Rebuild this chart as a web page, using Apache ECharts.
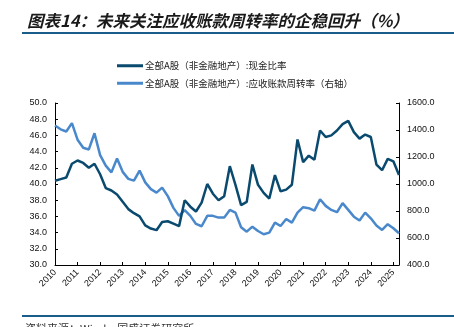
<!DOCTYPE html>
<html>
<head>
<meta charset="utf-8">
<script src="https://cdn.jsdelivr.net/npm/echarts@6/dist/echarts.min.js"></script>
<style>
  html, body { margin: 0; padding: 0; background: #fff; }
  #chart { width: 454px; height: 327px; }
</style>
</head>
<body>
<div id="chart"></div>
<script>
// Quarterly observations, 2010Q1 – 2025Q2
const years = ['2010','2011','2012','2013','2014','2015','2016','2017','2018','2019','2020','2021','2022','2023','2024','2025'];
const quarters = ['Q1','Q2','Q3','Q4'];

// 全部A股（非金融地产）:现金比率 (left axis)
const cashRatio = [
  40.4, 40.6, 40.8, 42.5, 42.9, 42.6, 42.0, 42.5,
  41.2, 39.5, 39.2, 38.7, 37.8, 36.9, 36.4, 36.0,
  34.9, 34.5, 34.3, 35.3, 35.4, 35.1, 34.8, 38.0,
  37.2, 36.6, 37.7, 40.0, 38.8, 38.0, 38.5, 42.2,
  39.9, 37.4, 37.8, 42.4, 39.9, 38.9, 38.2, 41.1,
  39.1, 39.3, 39.9, 45.5, 42.7, 43.5, 43.0, 46.6,
  45.8, 46.0, 46.6, 47.4, 47.8, 46.4, 45.6, 46.1,
  45.8, 42.4, 41.7, 43.1, 42.8, 41.1
];

// 全部A股（非金融地产）:应收账款周转率 (right axis)
const receivableTurnover = [
  1434, 1405, 1389, 1451, 1328, 1268, 1256, 1376,
  1214, 1136, 1086, 1189, 1090, 1038, 1025, 1099,
  1012, 962, 936, 973, 910, 823, 764, 807,
  764, 704, 687, 764, 764, 751, 751, 808,
  788, 680, 647, 684, 652, 628, 640, 714,
  689, 741, 714, 788, 828, 821, 803, 887,
  838, 808, 791, 858, 808, 758, 729, 788,
  746, 692, 660, 702, 672, 635
];

const categories = [];
years.forEach(y => quarters.forEach(q => categories.push(y + q)));
categories.length = cashRatio.length;

const seriesNames = [
  '全部A股（非金融地产）:现金比率',
  '全部A股（非金融地产）:应收账款周转率（右轴）'
];
const darkBlue = '#0b4a6f';
const lightBlue = '#4a88cc';
const axisFont = 'Liberation Sans, Arial, sans-serif';
const cjkFont = '"Noto Sans CJK SC", sans-serif';

const chart = echarts.init(document.getElementById('chart'), null, { renderer: 'canvas' });

chart.setOption({
  animation: false,
  backgroundColor: '#fff',
  title: {
    text: '图表14：未来关注应收账款周转率的企稳回升（%）',
    left: 22,
    top: 7,
    textStyle: {
      fontFamily: cjkFont,
      fontSize: 16.5,
      fontStyle: 'italic',
      fontWeight: 'bold',
      color: '#1a1a1a'
    }
  },
  graphic: [
    { type: 'rect', shape: { x: 22, y: 32, width: 432, height: 2 }, style: { fill: '#1a5c8a' } },
    { type: 'rect', shape: { x: 22, y: 315, width: 432, height: 2 }, style: { fill: '#1a5c8a' } },
    {
      type: 'text', left: 25, top: 323,
      style: { text: '资料来源：Wind，国盛证券研究所', fontFamily: cjkFont, fontSize: 11, fill: '#333' }
    }
  ],
  legend: {
    orient: 'vertical',
    left: 112,
    top: 56,
    itemGap: 8,
    itemWidth: 26,
    itemHeight: 3,
    icon: 'rect',
    data: seriesNames,
    textStyle: { fontFamily: cjkFont, fontSize: 9.5, color: '#222', padding: [0, 0, 0, -3] }
  },
  grid: { left: 55, right: 55, top: 103, bottom: 62 },
  xAxis: {
    type: 'category',
    data: categories,
    boundaryGap: false,
    axisLine: { lineStyle: { color: '#000', width: 1 } },
    axisTick: { inside: true, interval: 3, length: 3, lineStyle: { color: '#000' } },
    axisLabel: {
      interval: 3,
      rotate: 45,
      margin: 6,
      fontFamily: axisFont,
      fontSize: 9,
      color: '#111',
      formatter: v => v.slice(0, 4)
    },
    splitLine: { show: false }
  },
  yAxis: [
    {
      type: 'value',
      min: 30, max: 50, interval: 2,
      axisLine: { show: true, lineStyle: { color: '#000' } },
      axisTick: { show: true, inside: true, length: 3, lineStyle: { color: '#000' } },
      axisLabel: { fontFamily: axisFont, fontSize: 9, color: '#111', margin: 8, formatter: v => v.toFixed(1) },
      splitLine: { show: false }
    },
    {
      type: 'value',
      min: 400, max: 1600, interval: 200,
      axisLine: { show: true, lineStyle: { color: '#000' } },
      axisTick: { show: true, inside: true, length: 3, lineStyle: { color: '#000' } },
      axisLabel: { fontFamily: axisFont, fontSize: 9, color: '#111', margin: 8, formatter: v => v.toFixed(1) },
      splitLine: { show: false }
    }
  ],
  series: [
    {
      name: seriesNames[0],
      type: 'line',
      yAxisIndex: 0,
      data: cashRatio,
      showSymbol: false,
      symbol: 'none',
      lineStyle: { color: darkBlue, width: 2.5 },
      itemStyle: { color: darkBlue },
      z: 3
    },
    {
      name: seriesNames[1],
      type: 'line',
      yAxisIndex: 1,
      data: receivableTurnover,
      showSymbol: false,
      symbol: 'none',
      lineStyle: { color: lightBlue, width: 2.5 },
      itemStyle: { color: lightBlue },
      z: 2
    }
  ]
});
</script>
</body>
</html>
